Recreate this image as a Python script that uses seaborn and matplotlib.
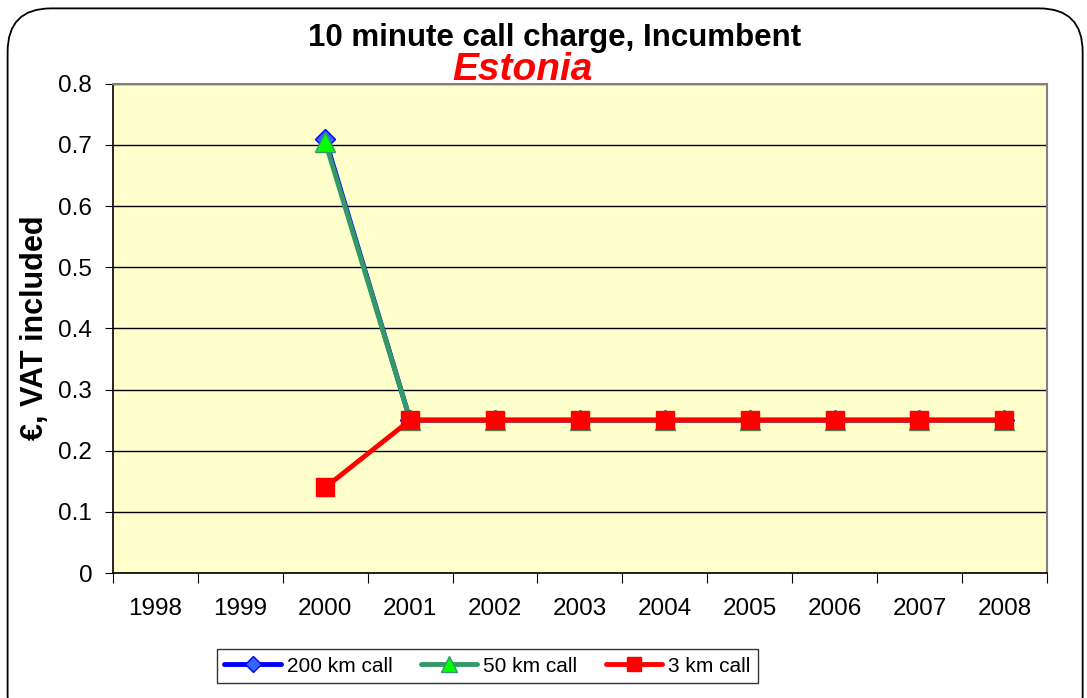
import numpy as np
import pandas as pd
import matplotlib
matplotlib.use("Agg")
import matplotlib.pyplot as plt
import seaborn as sns
from matplotlib.patches import FancyBboxPatch

# chart data
years = [1998, 1999, 2000, 2001, 2002, 2003, 2004, 2005, 2006, 2007, 2008]
data_years = [2000, 2001, 2002, 2003, 2004, 2005, 2006, 2007, 2008]
call_200km = [0.71, 0.25, 0.25, 0.25, 0.25, 0.25, 0.25, 0.25, 0.25]
call_50km = [0.705, 0.25, 0.25, 0.25, 0.25, 0.25, 0.25, 0.25, 0.25]
call_3km = [0.14, 0.25, 0.25, 0.25, 0.25, 0.25, 0.25, 0.25, 0.25]
y_ticks = [0, 0.1, 0.2, 0.3, 0.4, 0.5, 0.6, 0.7, 0.8]

df = pd.DataFrame({
    "year": data_years * 3,
    "value": call_200km + call_50km + call_3km,
    "series": ["200 km call"] * 9 + ["50 km call"] * 9 + ["3 km call"] * 9,
})

sns.set_style("white")
plt.rcParams['font.family'] = ['Liberation Sans', 'DejaVu Sans']
plt.rcParams['text.color'] = 'black'
plt.rcParams['axes.labelcolor'] = 'black'
plt.rcParams['xtick.color'] = 'black'
plt.rcParams['ytick.color'] = 'black'

fig = plt.figure(figsize=(10.87, 6.98), dpi=100)
ax = fig.add_axes([0.104, 0.179, 0.859, 0.701])
ax.set_facecolor("#FFFFCC")

styles = {
    "200 km call": dict(color="#0000FF", marker="D", ms=10.5, mfc="#3366FF", mec="#0000FF"),
    "50 km call": dict(color="#339966", marker="^", ms=15, mfc="#00FF00", mec="#339966"),
    "3 km call": dict(color="#FF0000", marker="s", ms=13.5, mfc="#FF0000", mec="#FF0000"),
}
for name in ["200 km call", "50 km call", "3 km call"]:
    st = styles[name]
    sub = df[df["series"] == name]
    sns.lineplot(data=sub, x="year", y="value", ax=ax, color=st["color"], lw=3.5,
                 marker=st["marker"], markersize=st["ms"], markerfacecolor=st["mfc"],
                 markeredgecolor=st["mec"], markeredgewidth=1, label=name)

ax.set_xlim(years[0] - 0.5, years[-1] + 0.5)
ax.set_ylim(0, 0.8)
ax.set_yticks(y_ticks)
ax.set_yticklabels([f"{v:g}" for v in y_ticks], fontsize=17.5)
ax.yaxis.grid(True, color="black", lw=1)
ax.set_axisbelow(True)

# category boundaries as ticks, labels at centres
ax.set_xticks(np.arange(years[0] - 0.5, years[-1] + 1, 1.0))
ax.set_xticklabels([])
ax.set_xticks(years, minor=True)
ax.set_xticklabels([str(y) for y in years], minor=True, fontsize=17.5)
ax.tick_params(axis="x", which="major", direction="out", length=7, color="black", bottom=True)
ax.tick_params(axis="x", which="minor", length=0, pad=18)
ax.tick_params(axis="y", direction="out", length=6, color="black", left=True, pad=9)

for s in ["left", "bottom"]:
    ax.spines[s].set_color("black")
    ax.spines[s].set_linewidth(1.2)
for s in ["top", "right"]:
    ax.spines[s].set_color("#808080")
    ax.spines[s].set_linewidth(1.5)

ax.set_xlabel("")
ax.set_ylabel("")
fig.text(0.0325, 0.530, "€, VAT included", rotation=90, ha="center", va="center",
         fontsize=22, fontweight="bold")

fig.text(0.510, 0.946, "10 minute call charge, Incumbent", ha="center", va="center",
         fontsize=22.5, fontweight="bold")
fig.text(0.481, 0.899, "Estonia", ha="center", va="center", fontsize=28,
         fontweight="bold", fontstyle="italic", color="#FF0000")

leg = ax.legend(loc="center", bbox_to_anchor=(0.401, -0.19), ncol=3, fontsize=15,
                frameon=True, fancybox=False, edgecolor="black", handlelength=2.7,
                columnspacing=1.35, handletextpad=0.3, borderpad=0.35, markerscale=0.75)
leg.get_frame().set_linewidth(1)

# rounded outer border
border = FancyBboxPatch((0.007, -0.06), 0.989, 1.048, boxstyle="round,pad=0,rounding_size=0.04",
                        transform=fig.transFigure, fill=False, edgecolor="black", lw=1.3,
                        mutation_aspect=1087 / 698, clip_on=False)
fig.patches.append(border)

fig.savefig("out.png", dpi=100)
